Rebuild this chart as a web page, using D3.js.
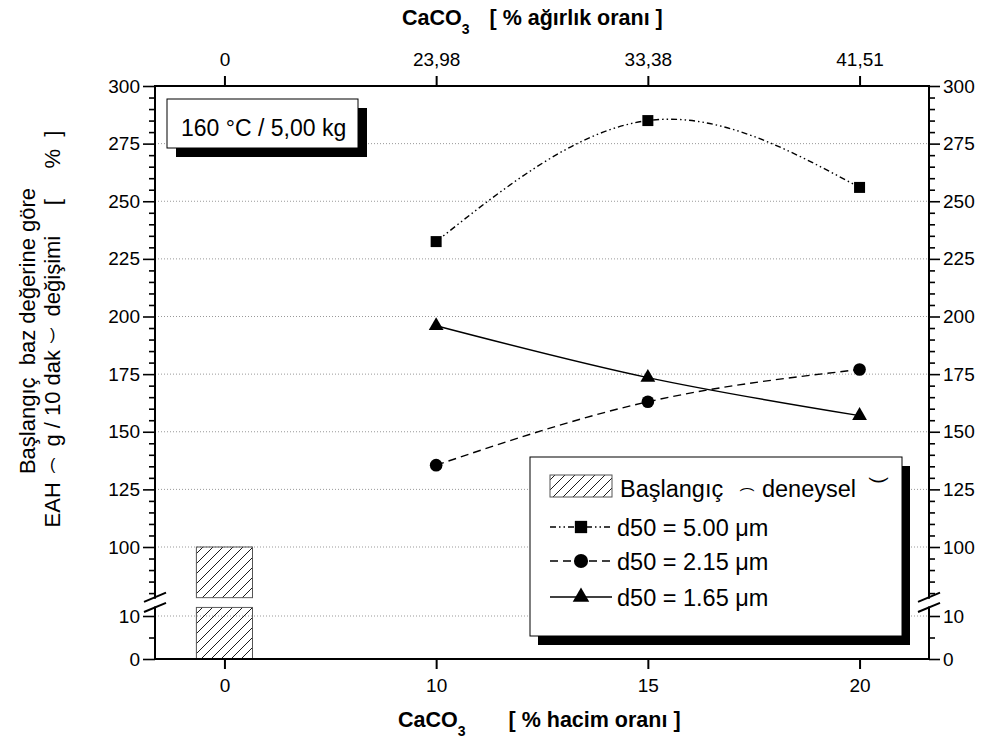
<!DOCTYPE html>
<html>
<head>
<meta charset="utf-8">
<script src="https://cdn.jsdelivr.net/npm/d3@7"></script>
<style>
  body { margin: 0; background: #fff; }
  svg { font-family: "Liberation Sans", Arial, sans-serif; }
  text { white-space: pre; }
</style>
</head>
<body>
<div id="chart"></div>
<script>
// data
const volPct = [0, 10, 15, 20];                 // bottom axis categories
const wtLabels = ["0", "23,98", "33,38", "41,51"]; // top axis labels
const seriesX = [10, 15, 20];
const d50_500 = [232.5, 285.0, 256.0];
const d50_215 = [135.5, 163.0, 177.0];
const d50_165 = [196.0, 173.5, 157.0];
const baseX = [0];
const baseVal = [100];
const upperTicks = [100, 125, 150, 175, 200, 225, 250, 275, 300];
const lowerTicks = [0, 10];
const legendNames = ["d50 = 5.00 μm", "d50 = 2.15 μm", "d50 = 1.65 μm"];

const W = 983, H = 741;
const L = 155, R = 929, T = 86, B = 659;

const svg = d3.select("#chart").append("svg")
    .attr("width", W).attr("height", H);

svg.append("rect").attr("width", W).attr("height", H).attr("fill", "#fff");

const defs = svg.append("defs");
const pat = defs.append("pattern")
    .attr("id", "hatch")
    .attr("patternUnits", "userSpaceOnUse")
    .attr("width", 10).attr("height", 10);
pat.append("path")
    .attr("d", "M0,10 L10,0 M-3,3 L3,-3 M7,13 L13,7")
    .attr("stroke", "#000").attr("stroke-width", 0.9);

const x = d3.scalePoint().domain(volPct).range([L, R]).padding(0.328);
const yUp = d3.scaleLinear().domain([100, 300]).range([547, T]);
const yLo = d3.scaleLinear().domain([0, 10]).range([B, 616]);
const upMin = 78, loMax = 12; // ends of the two axis pieces
const brkA = yUp(upMin), brkB = yLo(loMax);

// grid
const grid = svg.append("g")
    .attr("stroke", "#999").attr("stroke-width", 1).attr("stroke-dasharray", "1,2");
grid.selectAll(".gu").data(upperTicks.filter(d => d < 300)).enter().append("line")
    .attr("x1", L).attr("x2", R).attr("y1", d => yUp(d)).attr("y2", d => yUp(d));
grid.selectAll(".gl").data(lowerTicks.filter(d => d > 0)).enter().append("line")
    .attr("x1", L).attr("x2", R).attr("y1", d => yLo(d)).attr("y2", d => yLo(d));

// baseline bar, in both axis pieces
const bw = x.step() * 0.265;
const bars = svg.append("g");
baseX.forEach((bx, i) => {
    bars.append("rect")
        .attr("x", x(bx) - bw / 2).attr("width", bw)
        .attr("y", yUp(baseVal[i])).attr("height", yUp(upMin) - yUp(baseVal[i]))
        .attr("fill", "url(#hatch)").attr("stroke", "#555").attr("stroke-width", 1);
    bars.append("rect")
        .attr("x", x(bx) - bw / 2).attr("width", bw)
        .attr("y", yLo(loMax)).attr("height", yLo(0) - yLo(loMax))
        .attr("fill", "url(#hatch)").attr("stroke", "#555").attr("stroke-width", 1);
});
// gap of the break through the bar
svg.append("rect")
    .attr("x", x(0) - bw / 2 - 1).attr("width", bw + 2)
    .attr("y", brkA + 1).attr("height", brkB - brkA - 2)
    .attr("fill", "#fff");

// series
const series = [
    { vals: d50_500, dash: "6,3,1.5,3,1.5,3", sym: d3.symbolSquare, size: 121 },
    { vals: d50_215, dash: "8,5", sym: d3.symbolCircle, size: 125 },
    { vals: d50_165, dash: null, sym: d3.symbolTriangle, size: 95 }
];
const line = d3.line()
    .x(d => x(d[0])).y(d => yUp(d[1]))
    .curve(d3.curveNatural);

series.forEach(s => {
    const pts = seriesX.map((v, i) => [v, s.vals[i]]);
    svg.append("path")
        .attr("d", line(pts))
        .attr("fill", "none").attr("stroke", "#000").attr("stroke-width", 1.4)
        .attr("stroke-dasharray", s.dash);
    svg.selectAll(null).data(pts).enter().append("path")
        .attr("transform", d => `translate(${x(d[0])},${yUp(d[1])})`)
        .attr("d", d3.symbol().type(s.sym).size(s.size)())
        .attr("fill", "#000");
});

// axes
function styleAxis(g, sw) {
    g.select(".domain").remove();
    g.selectAll(".tick line").attr("stroke", "#000").attr("stroke-width", sw);
    g.selectAll(".tick text").attr("font-size", 19).attr("fill", "#000")
        .attr("font-family", "Liberation Sans, Arial, sans-serif");
}
const minorUp = d3.range(80, 300, 5).filter(d => d % 25 !== 0);
const minorLo = [5];

svg.append("g").attr("transform", `translate(${L},0)`)
    .call(d3.axisLeft(yUp).tickValues(upperTicks).tickSize(12).tickPadding(3))
    .call(g => styleAxis(g, 1.6));
svg.append("g").attr("transform", `translate(${L},0)`)
    .call(d3.axisLeft(yLo).tickValues(lowerTicks).tickSize(12).tickPadding(3))
    .call(g => styleAxis(g, 1.6));
svg.append("g").attr("transform", `translate(${L},0)`)
    .call(d3.axisLeft(yUp).tickValues(minorUp).tickSize(6).tickFormat(""))
    .call(g => styleAxis(g, 1.6));
svg.append("g").attr("transform", `translate(${L},0)`)
    .call(d3.axisLeft(yLo).tickValues(minorLo).tickSize(6).tickFormat(""))
    .call(g => styleAxis(g, 1.6));

svg.append("g").attr("transform", `translate(${R},0)`)
    .call(d3.axisRight(yUp).tickValues(upperTicks).tickSize(11).tickPadding(3))
    .call(g => styleAxis(g, 1.6));
svg.append("g").attr("transform", `translate(${R},0)`)
    .call(d3.axisRight(yLo).tickValues(lowerTicks).tickSize(11).tickPadding(3))
    .call(g => styleAxis(g, 1.6));
svg.append("g").attr("transform", `translate(${R},0)`)
    .call(d3.axisRight(yUp).tickValues(minorUp).tickSize(6).tickFormat(""))
    .call(g => styleAxis(g, 1.6));
svg.append("g").attr("transform", `translate(${R},0)`)
    .call(d3.axisRight(yLo).tickValues(minorLo).tickSize(6).tickFormat(""))
    .call(g => styleAxis(g, 1.6));

svg.append("g").attr("transform", `translate(0,${B})`)
    .call(d3.axisBottom(x).tickSize(10).tickPadding(10))
    .call(g => styleAxis(g, 2));
svg.append("g").attr("transform", `translate(0,${T})`)
    .call(d3.axisTop(x).tickSize(10).tickPadding(10).tickFormat((d, i) => wtLabels[i]))
    .call(g => styleAxis(g, 2));

// frame
const frame = svg.append("g").attr("stroke", "#000").attr("stroke-width", 2)
    .attr("stroke-linecap", "square");
frame.append("line").attr("x1", L).attr("x2", R).attr("y1", T).attr("y2", T);
frame.append("line").attr("x1", L).attr("x2", R).attr("y1", B).attr("y2", B);
[L, R].forEach(ax => {
    frame.append("line").attr("x1", ax).attr("x2", ax).attr("y1", T).attr("y2", brkA);
    frame.append("line").attr("x1", ax).attr("x2", ax).attr("y1", brkB).attr("y2", B);
    [brkA - 0.5, brkB].forEach(by => {
        frame.append("line").attr("stroke-linecap", "butt")
            .attr("x1", ax - 11).attr("y1", by + 4.6)
            .attr("x2", ax + 11).attr("y2", by - 4.6);
    });
});

// condition box
svg.append("rect").attr("x", 176).attr("y", 108).attr("width", 191).attr("height", 49).attr("fill", "#000");
svg.append("rect").attr("x", 167).attr("y", 99).attr("width", 191).attr("height", 49)
    .attr("fill", "#fff").attr("stroke", "#000").attr("stroke-width", 1);
svg.append("text").attr("x", 181).attr("y", 136).attr("font-size", 23)
    .text("160 °C / 5,00 kg");

// legend
svg.append("rect").attr("x", 538).attr("y", 466).attr("width", 372).attr("height", 179).attr("fill", "#000");
svg.append("rect").attr("x", 530).attr("y", 457).attr("width", 372).attr("height", 179)
    .attr("fill", "#fff").attr("stroke", "#000").attr("stroke-width", 1);

svg.append("rect").attr("x", 550).attr("y", 475).attr("width", 62).attr("height", 22)
    .attr("fill", "url(#hatch)").attr("stroke", "#555").attr("stroke-width", 1);
const lt = svg.append("text").attr("x", 620).attr("y", 497).attr("font-size", 23.5);
lt.append("tspan").text("Başlangıç ");
lt.append("tspan").text("(").attr("font-size", 14).attr("rotate", 90).attr("dx", 13).attr("dy", -10);
lt.append("tspan").text(" deneysel ").attr("dx", 8).attr("dy", 10);
lt.append("tspan").text(")").attr("font-size", 20).attr("rotate", 90).attr("dx", 10).attr("dy", -20);

const rowsY = [527, 561, 597];
series.forEach((s, i) => {
    const cy = rowsY[i];
    svg.append("line").attr("x1", 550).attr("x2", 612).attr("y1", cy).attr("y2", cy)
        .attr("stroke", "#000").attr("stroke-width", 1.4).attr("stroke-dasharray", s.dash);
    svg.append("path").attr("transform", `translate(581,${cy})`)
        .attr("d", d3.symbol().type(s.sym).size(s.size * 1.25)()).attr("fill", "#000");
    svg.append("text").attr("x", 617).attr("y", cy + 9).attr("font-size", 23.5)
        .text(legendNames[i]);
});

// axis titles
function title(xPos, yPos, rest, gap) {
    const t = svg.append("text").attr("x", xPos).attr("y", yPos)
        .attr("font-size", 21.5).attr("font-weight", "bold");
    t.append("tspan").text("CaCO");
    t.append("tspan").text("3").attr("font-size", 14).attr("dy", 9);
    t.append("tspan").text(rest).attr("dx", gap).attr("dy", -9);
}
title(398, 727, "[ % hacim oranı ]", 43);
title(402, 25, "[ % ağırlık oranı ]", 20);

svg.append("text").attr("font-size", 22).attr("text-anchor", "middle")
    .attr("transform", "translate(35,331) rotate(-90)")
    .text("Başlangıç  baz değerine göre");

const y2 = svg.append("text").attr("font-size", 22).attr("text-anchor", "middle")
    .attr("transform", "translate(60,329) rotate(-90)");
y2.append("tspan").text("EAH ");
y2.append("tspan").text("(").attr("font-size", 16).attr("rotate", 90).attr("dx", 6).attr("dy", -10);
y2.append("tspan").text(" g / 10 dak ").attr("dx", 12).attr("dy", 10);
y2.append("tspan").text(")").attr("font-size", 16).attr("rotate", 90).attr("dx", 4).attr("dy", -10);
y2.append("tspan").text(" değişimi     [     %  ]").attr("dx", 12).attr("dy", 10);
</script>
</body>
</html>
